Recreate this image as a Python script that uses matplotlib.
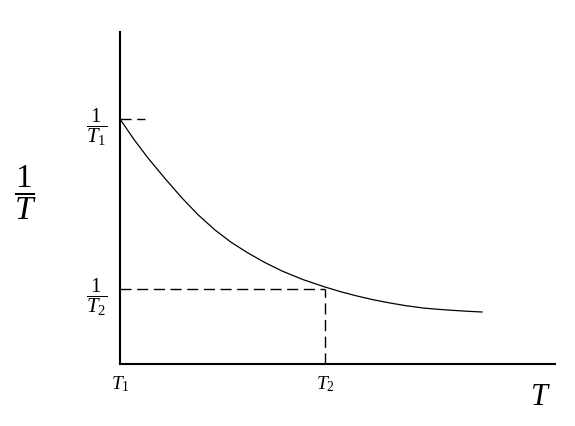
import matplotlib
matplotlib.use("Agg")
import matplotlib.pyplot as plt

plt.rcParams['mathtext.fontset'] = 'custom'
plt.rcParams['mathtext.rm'] = 'Liberation Serif'
plt.rcParams['mathtext.it'] = 'Liberation Serif:italic'
plt.rcParams['font.family'] = 'Liberation Serif'

# curve (T, 1/T in plot units)
T_vals = [0, 14, 28, 45, 62, 78, 95, 111, 128, 145, 162, 183, 205, 221, 237,
          253, 270, 286, 303, 319, 335, 348, 362]
invT_vals = [245, 224.5, 206, 185.5, 166, 149.3, 134, 121.8, 111, 101.4, 93, 84.4, 77, 72.2, 68,
             64.3, 61, 58.3, 56, 54.6, 53.5, 52.7, 52]

T1, T2 = 0, 205
invT1, invT2 = 245, 75
xtick_labels = [r'$T_1$', r'$T_2$']
ytick_labels = [r'$\dfrac{1}{T_1}$', r'$\dfrac{1}{T_2}$']

fig = plt.figure(figsize=(5.75, 4.27), dpi=100)
ax = fig.add_axes([120/575, (427-365)/427, 435/575, 332/427])
ax.set_xlim(0, 435)
ax.set_ylim(0, 332)

ax.plot(T_vals, invT_vals, color='black', lw=0.9)
ax.plot([T1, 25], [invT1, invT1], color='black', lw=1, dashes=(8, 4))
ax.plot([T1, T2], [invT2, invT2], color='black', lw=1, dashes=(8, 4))
ax.plot([T2, T2], [0, invT2], color='black', lw=1, dashes=(8, 4))

for s in ['top', 'right']:
    ax.spines[s].set_visible(False)
for s in ['left', 'bottom']:
    ax.spines[s].set_linewidth(1.5)

ax.set_xticks([T1, T2], xtick_labels, fontsize=14)
ax.set_yticks([invT1, invT2], ytick_labels, fontsize=15)
ax.tick_params(axis='x', length=0, pad=7)
ax.tick_params(axis='y', length=0, pad=9)

fig.text(540/575, 1 - 398/427, r'$T$', fontsize=22, ha='center', va='center')
fig.text(25/575, 1 - 193/427, r'$\dfrac{1}{T}$', fontsize=24, ha='center', va='center')

fig.savefig('out.png', dpi=100)
